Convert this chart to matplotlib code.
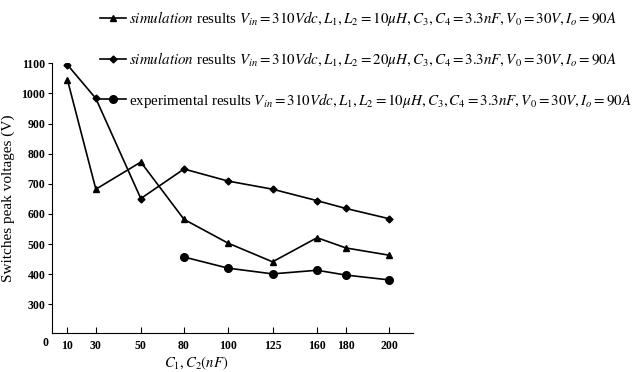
import matplotlib
matplotlib.use("Agg")
import matplotlib.pyplot as plt

# capacitance values (nF) and where each category sits on the (non-uniform) axis
cap_labels = ["10", "30", "50", "80", "100", "125", "160", "180", "200"]
cap_pos = [0.34, 0.98, 1.99, 2.96, 3.95, 4.95, 5.95, 6.60, 7.57]

# switch peak voltages (V)
sim_10uH = [1046, 682, 772, 582, 503, 441, 521, 487, 463]
sim_20uH = [1095, 983, 651, 749, 709, 682, 644, 618, 584]
exp_10uH = [457, 420, 401, 413, 397, 381]   # measured from 80 nF onwards

yticks = [300, 400, 500, 600, 700, 800, 900, 1000, 1100]

plt.rcParams['font.family'] = ['Liberation Serif', 'DejaVu Serif']
plt.rcParams['mathtext.fontset'] = 'stix'

fig = plt.figure(figsize=(6.37, 3.72), dpi=100)
ax = fig.add_axes([0.082, 0.105, 0.566, 0.725])

lab1 = (r"$\it{simulation}$ results $V_{in}=310Vdc,L_1,L_2=10\mu H,"
        r"C_3,C_4=3.3nF,V_0=30V,I_o=90A$")
lab2 = (r"$\it{simulation}$ results $V_{in}=310Vdc,L_1,L_2=20\mu H,"
        r"C_3,C_4=3.3nF,V_0=30V,I_o=90A$")
lab3 = (r"experimental results $V_{in}=310Vdc,L_1,L_2=10\mu H,"
        r"C_3,C_4=3.3nF,V_0=30V,I_o=90A$")

l1, = ax.plot(cap_pos, sim_10uH, 'k-', marker='^', markersize=5, lw=1.2, label=lab1)
l2, = ax.plot(cap_pos, sim_20uH, 'k-', marker='D', markersize=3.5, lw=1.2, label=lab2)
l3, = ax.plot(cap_pos[3:], exp_10uH, 'k-', marker='o', markersize=5.5, lw=1.2, label=lab3)

ax.set_xlim(0, 8.1)
ax.set_ylim(205, 1100)
ax.spines['top'].set_visible(False)
ax.spines['right'].set_visible(False)
ax.set_xticks(cap_pos)
ax.set_xticklabels(cap_labels)
ax.set_yticks(yticks)
ax.tick_params(axis='x', direction='in', length=4, labelsize=8.5, pad=5)
ax.tick_params(axis='y', direction='out', length=3, labelsize=8.5, pad=2)
for t in ax.get_xticklabels() + ax.get_yticklabels():
    t.set_fontweight('bold')
ax.text(-0.01, -0.015, "0", transform=ax.transAxes, ha='right', va='top',
        fontsize=8.5, fontweight='bold')

ax.set_ylabel("Switches peak voltages (V)", fontsize=11)
ax.yaxis.set_label_coords(-0.103, 0.5)
ax.set_xlabel(r"$C_1,C_2(nF)$", fontsize=10.5)
ax.xaxis.set_label_coords(0.398, -0.08)

fig.legend(handles=[l1, l2, l3], loc='upper left', bbox_to_anchor=(0.136, 1.012),
           frameon=False, fontsize=10.8, handlelength=1.75, handletextpad=0.2,
           labelspacing=1.45)

fig.savefig("out.png", dpi=100)
